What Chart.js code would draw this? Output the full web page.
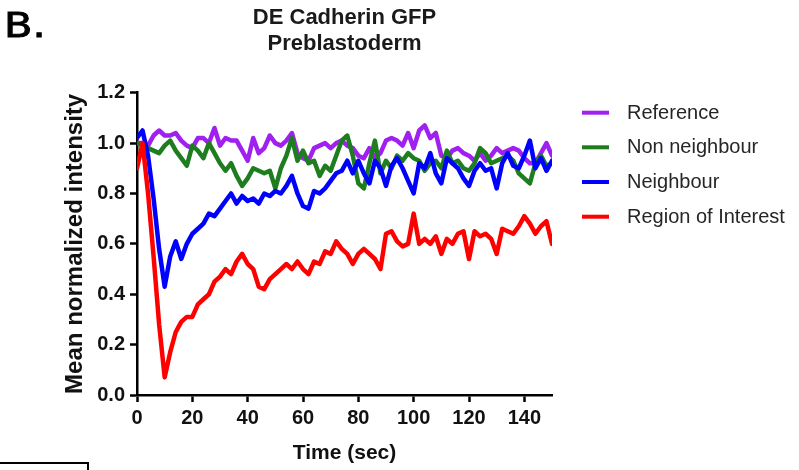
<!DOCTYPE html>
<html>
<head>
<meta charset="utf-8">
<script src="https://cdn.jsdelivr.net/npm/chart.js@4.4.0/dist/chart.umd.min.js"></script>
<style>
  html, body { margin: 0; padding: 0; background: #fff; }
  #wrap { position: relative; width: 799px; height: 470px; overflow: hidden; }
  #panel { position: absolute; left: 4px; top: 5px; font-family: "DejaVu Sans", sans-serif; font-size: 34px; color: #000; -webkit-text-stroke: 0.9px #000; transform: scaleX(1.22); transform-origin: 0 0; }
  #crop { position: absolute; left: -3px; top: 462px; width: 90px; height: 20px; border-top: 2px solid #000; border-right: 2px solid #000; }
</style>
</head>
<body>
<div id="wrap">
  <canvas id="c" width="799" height="470"></canvas>
  <div id="panel">B.</div>
  <div id="crop"></div>
</div>
<script>
const titleLines = ["DE Cadherin GFP", "Preblastoderm"];
const xTitle = "Time (sec)";
const yTitle = "Mean normalized intensity";
const seriesNames = ["Reference", "Non neighbour", "Neighbour", "Region of Interest"];
const seriesColors = ["#A020F0", "#1E7D1E", "#0000FF", "#FF0000"];

const timeSec = [0,2,4,6,8,10,12,14,16,18,20,22,24,26,28,30,32,34,36,38,40,42,44,46,48,50,52,54,56,58,60,62,64,66,68,70,72,74,76,78,80,82,84,86,88,90,92,94,96,98,100,102,104,106,108,110,112,114,116,118,120,122,124,126,128,130,132,134,136,138,140,142,144,146,148,150];

const reference = [1.00,1.00,0.99,1.03,1.05,1.03,1.03,1.04,1.01,0.99,0.98,1.02,1.02,1.00,1.06,0.99,1.02,1.01,1.01,0.97,0.93,1.02,0.96,0.98,1.03,1.00,0.99,1.01,1.04,0.96,0.94,0.93,0.98,0.99,1.00,0.98,1.00,1.01,0.99,0.98,0.95,0.94,0.98,0.94,0.96,1.01,1.02,1.01,0.99,1.04,0.98,1.05,1.07,1.02,1.04,0.95,0.94,0.97,0.98,0.96,0.95,0.93,0.96,0.93,0.95,0.98,0.96,0.97,0.98,0.97,0.94,0.92,0.92,0.96,1.00,0.95];

const nonNeighbour = [1.00,0.99,0.98,0.97,0.96,0.99,1.01,0.97,0.94,0.91,0.99,0.97,0.94,1.00,0.96,0.92,0.89,0.92,0.87,0.83,0.86,0.90,0.89,0.88,0.89,0.82,0.90,0.95,1.02,0.93,0.97,0.92,0.93,0.87,0.91,0.89,0.95,1.01,1.03,0.95,0.84,0.82,0.92,1.01,0.88,0.93,0.90,0.95,0.93,0.96,0.94,0.93,0.89,0.92,0.93,0.90,0.97,0.92,0.93,0.90,0.89,0.92,0.98,0.96,0.92,0.93,0.94,0.95,0.93,0.88,0.86,0.84,0.92,0.95,0.91,0.92];

const neighbour = [1.02,1.05,0.95,0.78,0.58,0.43,0.55,0.61,0.54,0.60,0.64,0.66,0.68,0.72,0.71,0.74,0.77,0.80,0.76,0.79,0.77,0.78,0.76,0.80,0.79,0.81,0.80,0.83,0.87,0.80,0.75,0.74,0.81,0.80,0.82,0.85,0.88,0.89,0.93,0.88,0.93,0.88,0.84,0.93,0.90,0.83,0.91,0.94,0.90,0.85,0.80,0.92,0.90,0.96,0.88,0.84,0.94,0.92,0.90,0.86,0.83,0.89,0.92,0.89,0.90,0.82,0.92,0.96,0.91,0.90,0.95,1.01,0.90,0.94,0.89,0.93];

const regionOfInterest = [0.90,1.00,0.80,0.55,0.28,0.07,0.17,0.25,0.29,0.31,0.31,0.36,0.38,0.40,0.45,0.47,0.50,0.48,0.53,0.56,0.52,0.50,0.43,0.42,0.46,0.48,0.50,0.52,0.50,0.53,0.50,0.48,0.53,0.52,0.57,0.56,0.61,0.58,0.56,0.52,0.56,0.58,0.56,0.54,0.50,0.64,0.65,0.61,0.59,0.60,0.72,0.60,0.62,0.60,0.63,0.56,0.62,0.60,0.64,0.65,0.54,0.65,0.63,0.64,0.62,0.56,0.66,0.65,0.64,0.67,0.71,0.68,0.64,0.67,0.69,0.60];

const yTicks = [0.0, 0.2, 0.4, 0.6, 0.8, 1.0, 1.2];
const xTicks = [0, 20, 40, 60, 80, 100, 120, 140];

const allSeries = [reference, nonNeighbour, neighbour, regionOfInterest];

const FONT = "'Liberation Sans', Arial, sans-serif";

const datasets = allSeries.map((vals, i) => ({
  label: seriesNames[i],
  data: timeSec.map((t, k) => ({ x: t, y: vals[k] })),
  borderColor: seriesColors[i],
  backgroundColor: seriesColors[i],
  borderWidth: 4.5,
  pointRadius: 0,
  tension: 0,
  fill: false,
  borderJoinStyle: 'round',
  borderCapStyle: 'round',
  order: 4 - i
}));

const titlePlugin = {
  id: 'centerTitle',
  afterDraw(chart) {
    const ctx = chart.ctx;
    const ca = chart.chartArea;
    const cx = (ca.left + ca.right) / 2;
    ctx.save();
    ctx.fillStyle = '#1a1a1a';
    ctx.font = "bold 22px " + FONT;
    ctx.textAlign = 'center';
    ctx.textBaseline = 'alphabetic';
    ctx.fillText(titleLines[0], cx, 23.5);
    ctx.fillText(titleLines[1], cx, 50);
    ctx.restore();
  }
};

const legendPlugin = {
  id: 'sideLegend',
  afterDraw(chart) {
    const ctx = chart.ctx;
    const rows = [112.7, 147.3, 182, 216.7];
    ctx.save();
    chart.data.datasets.forEach((ds, i) => {
      const y = rows[i];
      ctx.strokeStyle = ds.borderColor;
      ctx.lineWidth = 4;
      ctx.lineCap = 'butt';
      ctx.beginPath();
      ctx.moveTo(582, y);
      ctx.lineTo(609, y);
      ctx.stroke();
      ctx.fillStyle = '#262626';
      ctx.font = "20px " + FONT;
      ctx.textAlign = 'left';
      ctx.textBaseline = 'middle';
      ctx.fillText(ds.label, 627, y + 0.5);
    });
    ctx.restore();
  }
};

new Chart(document.getElementById('c'), {
  type: 'line',
  data: { datasets },
  options: {
    responsive: false,
    animation: false,
    layout: { padding: { top: 92.7, right: 247, bottom: 0, left: 0 } },
    plugins: { legend: { display: false }, title: { display: false }, tooltip: { enabled: false } },
    scales: {
      x: {
        type: 'linear',
        min: 0, max: 150,
        afterFit(scale) { scale.height = 75; },
        afterBuildTicks(scale) { scale.ticks = xTicks.map(v => ({ value: v })); },
        border: { display: true, color: '#000', width: 2.5 },
        grid: { display: true, drawOnChartArea: false, drawTicks: true, tickLength: 7, tickWidth: 2.5, tickColor: '#000' },
        ticks: { color: '#111', font: { family: FONT, size: 20, weight: 'bold' }, padding: 4, maxRotation: 0, autoSkip: false },
        title: { display: true, text: xTitle, color: '#111', font: { family: FONT, size: 21, weight: 'bold' }, padding: { top: 0, bottom: 4 } }
      },
      y: {
        type: 'linear',
        min: 0, max: 1.2,
        afterFit(scale) { scale.width = 137; },
        afterBuildTicks(scale) { scale.ticks = yTicks.map(v => ({ value: v })); },
        border: { display: true, color: '#000', width: 2.5 },
        grid: { display: true, drawOnChartArea: false, drawTicks: true, tickLength: 7, tickWidth: 2.5, tickColor: '#000' },
        ticks: { color: '#111', font: { family: FONT, size: 20, weight: 'bold' }, padding: 5, callback: v => Number(v).toFixed(1) },
        title: { display: true, text: yTitle, color: '#111', font: { family: FONT, size: 24, weight: 'bold' }, padding: { top: 61, bottom: 0 } }
      }
    }
  },
  plugins: [titlePlugin, legendPlugin]
});
</script>
</body>
</html>
